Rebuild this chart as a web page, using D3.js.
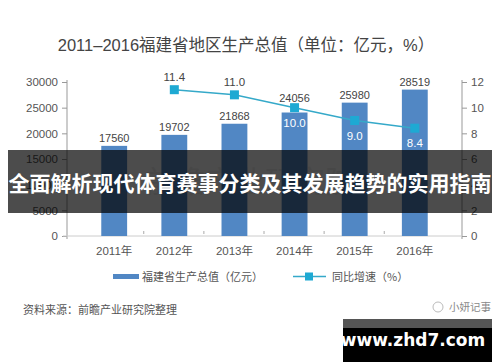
<!DOCTYPE html>
<meta charset="utf-8">
<body style="margin:0;background:#fff">
  <style>
    text { font-family: "Liberation Sans", "Noto Sans CJK SC", sans-serif; }
    .cjk { font-family: "Noto Sans CJK SC", sans-serif; }
  </style>
  <div id="chart"></div>
  <script src="https://d3js.org/d3.v7.min.js"></script>
  <script>
    // data
    var years = ["2011年", "2012年", "2013年", "2014年", "2015年", "2016年"];
    var gdp = [17560, 19702, 21868, 24056, 25980, 28519];
    var growth = [null, 11.4, 11.0, 10.0, 9.0, 8.4];
    var leftTicks = [0, 5000, 10000, 15000, 20000, 25000, 30000];
    var rightTicks = [0, 2, 4, 6, 8, 10, 12];

    var W = 500, H = 362;
    // plot box (note: "top" is reserved on window, so use plot* names)
    var plotL = 67, plotR = 462, plotT = 82, plotB = 236;

    var svg = d3.select("#chart").append("svg")
      .attr("width", W)
      .attr("height", H);

    var x = d3.scaleBand()
      .domain(years)
      .range([plotL, plotR])
      .padding(0.57);

    var y = d3.scaleLinear().domain([0, 30000]).range([plotB, plotT]);
    var y2 = d3.scaleLinear().domain([0, 12]).range([plotB, plotT]);

    // title
    svg.append("text")
      .attr("x", 246)
      .attr("y", 51)
      .attr("text-anchor", "middle")
      .style("font-size", "16.5px")
      .style("fill", "#444")
      .text("2011–2016福建省地区生产总值（单位：亿元，%）");

    // faint watermark behind the bars
    svg.append("text")
      .attr("class", "cjk")
      .attr("x", 250)
      .attr("y", 192)
      .attr("text-anchor", "middle")
      .style("font-size", "30px")
      .style("fill", "#eee")
      .text("前瞻产业研究院");

    // left axis
    var axL = svg.append("g")
      .attr("transform", "translate(" + plotL + ",0)")
      .call(d3.axisLeft(y).tickValues(leftTicks).tickFormat(d3.format("d"))
        .tickSize(5).tickPadding(4));
    // right axis
    var axR = svg.append("g")
      .attr("transform", "translate(" + plotR + ",0)")
      .call(d3.axisRight(y2).tickValues(rightTicks).tickFormat(d3.format("d"))
        .tickSize(5).tickPadding(4));
    [axL, axR].forEach(function(a) {
      a.select(".domain").attr("stroke", "#999")
        .attr("d", "M0," + (plotB + 3) + "V" + (plotT - 2));
      a.selectAll(".tick line").attr("stroke", "#999");
      a.selectAll(".tick text")
        .style("font-size", "11.5px")
        .style("fill", "#555");
    });

    // x axis baseline + separators
    svg.append("line")
      .attr("x1", plotL - 4).attr("x2", plotR)
      .attr("y1", plotB).attr("y2", plotB)
      .attr("stroke", "#ccc");
    svg.selectAll(".sep")
      .data(years.slice(1))
      .enter().append("line")
      .attr("x1", function(d) { return x(d) - x.step() * x.padding() / 2 - 0.5; })
      .attr("x2", function(d) { return x(d) - x.step() * x.padding() / 2 - 0.5; })
      .attr("y1", plotB - 5).attr("y2", plotB - 2)
      .attr("stroke", "#aaa");

    svg.selectAll(".xl")
      .data(years)
      .enter().append("text")
      .attr("x", function(d) { return x(d) + x.bandwidth() / 2; })
      .attr("y", 255)
      .attr("text-anchor", "middle")
      .style("font-size", "11.5px")
      .style("fill", "#555")
      .text(function(d) { return d; });

    // bars
    svg.selectAll(".bar")
      .data(gdp)
      .enter().append("rect")
      .attr("x", function(d, i) { return x(years[i]); })
      .attr("y", function(d) { return y(d); })
      .attr("width", x.bandwidth())
      .attr("height", function(d) { return plotB - y(d); })
      .style("fill", "#5187c4");

    // bar labels sit above the bar, lifted over a growth marker if they would hit it
    svg.selectAll(".bl")
      .data(gdp)
      .enter().append("text")
      .attr("x", function(d, i) { return x(years[i]) + x.bandwidth() / 2; })
      .attr("y", function(d, i) {
        var ly = y(d) - 4;
        var g = growth[i];
        if (g !== null && Math.abs(y2(g) - (ly - 4)) < 10) ly = y2(g) - 6;
        return ly;
      })
      .attr("text-anchor", "middle")
      .style("font-size", "11px")
      .style("fill", "#444")
      .text(function(d) { return d; });

    // growth line
    var pts = growth.map(function(v, i) { return { v: v, c: years[i] }; })
      .filter(function(d) { return d.v !== null; });
    var line = d3.line()
      .x(function(d) { return x(d.c) + x.bandwidth() / 2; })
      .y(function(d) { return y2(d.v); });
    svg.append("path")
      .datum(pts)
      .attr("d", line)
      .attr("fill", "none")
      .attr("stroke", "#35a9c9")
      .attr("stroke-width", 1.5);
    svg.selectAll(".mk")
      .data(pts)
      .enter().append("rect")
      .attr("x", function(d) { return x(d.c) + x.bandwidth() / 2 - 4.5; })
      .attr("y", function(d) { return y2(d.v) - 4.5; })
      .attr("width", 9).attr("height", 9)
      .style("fill", "#1ea9d3");
    svg.selectAll(".ml")
      .data(pts)
      .enter().append("text")
      .attr("x", function(d) { return x(d.c) + x.bandwidth() / 2; })
      .attr("y", function(d, i) { return i < 2 ? y2(d.v) - 9 : y2(d.v) + 19; })
      .attr("text-anchor", "middle")
      .style("font-size", "11.5px")
      .style("fill", function(d, i) { return i < 2 ? "#444" : "#fff"; })
      .text(function(d) { return d.v.toFixed(1); });

    // legend
    svg.append("rect")
      .attr("x", 113).attr("y", 274).attr("width", 26).attr("height", 5)
      .style("fill", "#5187c4");
    svg.append("text")
      .attr("class", "cjk")
      .attr("x", 142).attr("y", 281)
      .style("font-size", "11px").style("fill", "#555")
      .text("福建省生产总值（亿元）");
    svg.append("line")
      .attr("x1", 293).attr("x2", 326).attr("y1", 276.5).attr("y2", 276.5)
      .attr("stroke", "#35a9c9").attr("stroke-width", 1.5);
    svg.append("rect")
      .attr("x", 305).attr("y", 272.5).attr("width", 8).attr("height", 8)
      .style("fill", "#1ea9d3");
    svg.append("text")
      .attr("class", "cjk")
      .attr("x", 332).attr("y", 281)
      .style("font-size", "11px").style("fill", "#555")
      .text("同比增速（%）");

    // source + signature
    svg.append("text")
      .attr("class", "cjk")
      .attr("x", 23).attr("y", 314)
      .style("font-size", "11px").style("fill", "#555")
      .text("资料来源：前瞻产业研究院整理");
    svg.append("circle")
      .attr("cx", 438).attr("cy", 307).attr("r", 5)
      .attr("fill", "none").attr("stroke", "#bbb");
    svg.append("text")
      .attr("class", "cjk")
      .attr("x", 449).attr("y", 311)
      .style("font-size", "10.5px").style("fill", "#888")
      .text("小妍记事");

    // overlay banner
    svg.append("rect")
      .attr("x", 8).attr("y", 150).attr("width", 484).attr("height", 63)
      .style("fill", "rgba(0,0,0,0.7)");
    svg.append("text")
      .attr("class", "cjk")
      .attr("x", 250).attr("y", 191)
      .attr("text-anchor", "middle")
      .style("font-size", "21px")
      .style("font-weight", "bold")
      .style("fill", "#fff")
      .text("全面解析现代体育赛事分类及其发展趋势的实用指南");

    // site stamp
    svg.append("rect")
      .attr("x", 343).attr("y", 319).attr("width", 149).attr("height", 9)
      .style("fill", "#555");
    svg.append("rect")
      .attr("x", 343).attr("y", 328).attr("width", 149).attr("height", 34)
      .style("fill", "#000");
    svg.append("text")
      .attr("x", 413).attr("y", 346)
      .attr("text-anchor", "middle")
      .style("font-family", "'DejaVu Sans', sans-serif")
      .style("font-size", "17px")
      .style("font-weight", "bold")
      .style("fill", "#fff")
      .text("www.zhd7.com");
  </script>
</body>
